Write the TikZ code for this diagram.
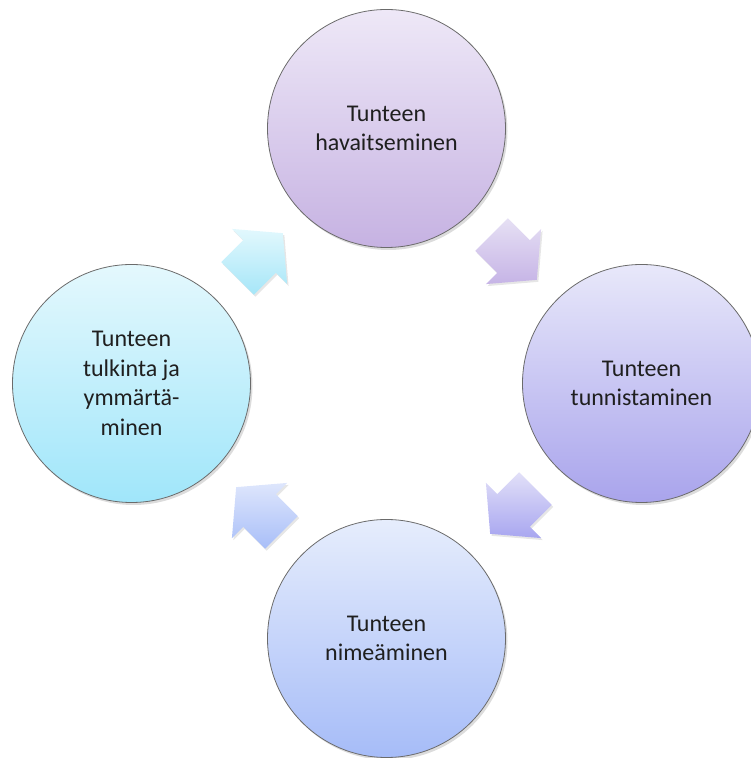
\documentclass[tikz,border=0pt]{standalone}
\usepackage{fontspec}
\setmainfont{Carlito}
\usetikzlibrary{shadows,calc}
\definecolor{cTopA}{HTML}{EEE8F7}\definecolor{cTopB}{HTML}{C6B2E2}
\definecolor{cRgtA}{HTML}{E8E8FA}\definecolor{cRgtB}{HTML}{A9A4EC}
\definecolor{cBotA}{HTML}{E6EDFC}\definecolor{cBotB}{HTML}{A6BCF8}
\definecolor{cLftA}{HTML}{E4F8FD}\definecolor{cLftB}{HTML}{A0E6FA}
\definecolor{aOneA}{HTML}{E2F8FD}\definecolor{aOneB}{HTML}{A6E6F8}
\definecolor{aTwoA}{HTML}{E6E0F4}\definecolor{aTwoB}{HTML}{C6B4E6}
\definecolor{aThrA}{HTML}{E2E0F8}\definecolor{aThrB}{HTML}{A8A6F0}
\definecolor{aFouA}{HTML}{DEE6FC}\definecolor{aFouB}{HTML}{A8BEF8}
\newcommand\cycarrow[4]{% position, angle, top colour, bottom colour
  \path[blockarrow, top color=#3, bottom color=#4]
    ($(#1)+({#2+216.57}:38.6)$) -- ($(#1)+({#2-90}:23)$) -- ($(#1)+({#2-90}:39)$)
    -- ($(#1)+(#2:33)$) -- ($(#1)+({#2+90}:39)$) -- ($(#1)+({#2+90}:23)$)
    -- ($(#1)+({#2+143.43}:38.6)$) -- cycle;}
\begin{document}
\begin{tikzpicture}[x=1pt,y=1pt,
  stage/.style={circle, minimum size=238pt, inner sep=0pt, draw=black!58,
    line width=0.8pt, align=center, text=black!88,
    font=\fontsize{24}{29.5}\selectfont,
    drop shadow={shadow xshift=2pt, shadow yshift=-2.5pt, opacity=0.28}},
  blockarrow/.style={draw=none,
    drop shadow={shadow xshift=1.5pt, shadow yshift=-2pt, opacity=0.2}}]
\useasboundingbox (0,0) rectangle (750,758);
\node[stage, top color=cTopA, bottom color=cTopB] (top) at (386.5,629.5) {Tunteen\\havaitseminen};
\node[stage, top color=cRgtA, bottom color=cRgtB] (right) at (641.5,374.5) {Tunteen\\tunnistaminen};
\node[stage, top color=cBotA, bottom color=cBotB] (bottom) at (386.5,119.5) {Tunteen\\nimeäminen};
\node[stage, top color=cLftA, bottom color=cLftB] (left) at (131.5,374.5) {Tunteen\\tulkinta ja\\ymmärtä-\\minen};
\coordinate (a1) at (259.5,501.5);
\coordinate (a2) at (513.5,501.5);
\coordinate (a3) at (513.5,247.5);
\coordinate (a4) at (259.5,247.5);
\cycarrow{a1}{45}{aOneA}{aOneB}
\cycarrow{a2}{-45}{aTwoA}{aTwoB}
\cycarrow{a3}{-135}{aThrA}{aThrB}
\cycarrow{a4}{135}{aFouA}{aFouB}
\end{tikzpicture}
\end{document}
